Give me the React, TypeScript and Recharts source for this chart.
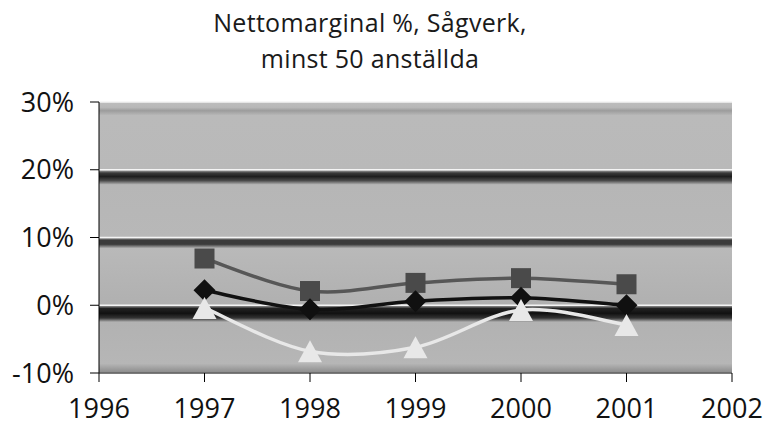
import React from "react";
import { LineChart, Line, XAxis, YAxis, CartesianGrid } from "recharts";

const years = [1997, 1998, 1999, 2000, 2001];
const squareSeries = [6.9, 2.1, 3.3, 4.0, 3.1];
const diamondSeries = [2.2, -0.6, 0.6, 1.1, 0.0];
const triangleSeries = [-0.4, -6.8, -6.2, -0.7, -2.9];
const xTicks = [1996, 1997, 1998, 1999, 2000, 2001, 2002];
const yTicks = [-10, 0, 10, 20, 30];
const titleLines = ["Nettomarginal %, Sågverk,", "minst 50 anställda"];

const data = years.map((y, i) => ({
  year: y,
  sq: squareSeries[i],
  di: diamondSeries[i],
  tr: triangleSeries[i],
}));

// Excel-like smoothing (uniform Catmull-Rom as cubic Bezier)
function excelCurve(context: any) {
  let pts: number[][] = [];
  return {
    areaStart() {},
    areaEnd() {},
    lineStart() {
      pts = [];
    },
    point(x: number, y: number) {
      pts.push([+x, +y]);
    },
    lineEnd() {
      if (!pts.length) return;
      context.moveTo(pts[0][0], pts[0][1]);
      for (let i = 0; i < pts.length - 1; i++) {
        const p0 = pts[i - 1] || pts[i];
        const p1 = pts[i];
        const p2 = pts[i + 1];
        const p3 = pts[i + 2] || pts[i + 1];
        context.bezierCurveTo(
          p1[0] + (p2[0] - p0[0]) / 6,
          p1[1] + (p2[1] - p0[1]) / 6,
          p2[0] - (p3[0] - p1[0]) / 6,
          p2[1] - (p3[1] - p1[1]) / 6,
          p2[0],
          p2[1]
        );
      }
    },
  };
}

const FONT = "'Open Sans', 'DejaVu Sans', sans-serif";

const SquareDot = (props: any) => {
  const { cx, cy, index } = props;
  if (cx == null || cy == null) return <g key={`s${index}`} />;
  return <rect key={`s${index}`} x={cx - 10} y={cy - 10} width={20} height={20} fill="#4a4a4a" />;
};
const DiamondDot = (props: any) => {
  const { cx, cy, index } = props;
  if (cx == null || cy == null) return <g key={`d${index}`} />;
  const r = 11;
  return (
    <polygon
      key={`d${index}`}
      points={`${cx},${cy - r} ${cx + r},${cy} ${cx},${cy + r} ${cx - r},${cy}`}
      fill="#101010"
    />
  );
};
const TriangleDot = (props: any) => {
  const { cx, cy, index } = props;
  if (cx == null || cy == null) return <g key={`t${index}`} />;
  return (
    <polygon
      key={`t${index}`}
      points={`${cx},${cy - 11} ${cx + 12},${cy + 11} ${cx - 12},${cy + 11}`}
      fill="#e8e8e8"
    />
  );
};

export default function App() {
  return (
    <div style={{ position: "absolute", left: 0, top: 0, width: 764, height: 428, background: "#fff" }}>
      <div
        style={{
          position: "absolute",
          left: 0,
          top: 4,
          width: 740,
          textAlign: "center",
          fontFamily: FONT,
          fontSize: 25,
          lineHeight: "36px",
          letterSpacing: 0.3,
          color: "#1a1a1a",
          zIndex: 1,
        }}
      >
        {titleLines.map((t) => (
          <div key={t}>{t}</div>
        ))}
      </div>
      <LineChart
        width={764}
        height={428}
        data={data}
        margin={{ top: 102, right: 32, bottom: 0, left: 0 }}
        style={{ position: "absolute", left: 0, top: 0 }}
      >
        <defs>
          <linearGradient id="wood" x1="0" y1="0" x2="0" y2="1">
            <stop offset="0" stopColor="#bdbdbd" />
            <stop offset="0.02" stopColor="#b8b8b8" />
            <stop offset="0.032" stopColor="#9c9c9c" />
            <stop offset="0.05" stopColor="#bababa" />
            <stop offset="0.25" stopColor="#b9b9b9" />
            <stop offset="0.262" stopColor="#3a3a3a" />
            <stop offset="0.275" stopColor="#1e1e1e" />
            <stop offset="0.29" stopColor="#4a4a4a" />
            <stop offset="0.305" stopColor="#b6b6b6" />
            <stop offset="0.5" stopColor="#b8b8b8" />
            <stop offset="0.51" stopColor="#3c3c3c" />
            <stop offset="0.525" stopColor="#3c3c3c" />
            <stop offset="0.54" stopColor="#b9b9b9" />
            <stop offset="0.75" stopColor="#b0b0b0" />
            <stop offset="0.762" stopColor="#222" />
            <stop offset="0.78" stopColor="#111" />
            <stop offset="0.797" stopColor="#333" />
            <stop offset="0.812" stopColor="#b2b2b2" />
            <stop offset="0.965" stopColor="#b6b6b6" />
            <stop offset="1" stopColor="#8a8a8a" />
          </linearGradient>
        </defs>
        <CartesianGrid
          vertical={false}
          fill="url(#wood)"
          fillOpacity={1}
          stroke="#f4f4f4"
          strokeWidth={1.5}
        />
        <XAxis
          dataKey="year"
          type="number"
          domain={[1996, 2002]}
          ticks={xTicks}
          interval={0}
          axisLine={{ stroke: "#000", strokeWidth: 1 }}
          tickLine={{ stroke: "#000", strokeWidth: 1 }}
          tickSize={9}
          tickMargin={17}
          height={55}
          tick={{ fill: "#111", fontSize: 27, fontFamily: FONT }}
        />
        <YAxis
          type="number"
          domain={[-10, 30]}
          ticks={yTicks}
          interval={0}
          width={99}
          axisLine={{ stroke: "#000", strokeWidth: 1 }}
          tickLine={{ stroke: "#000", strokeWidth: 1 }}
          tickSize={9}
          tickMargin={16}
          tickFormatter={(v: number) => `${v}%`}
          tick={{ fill: "#111", fontSize: 27, fontFamily: FONT }}
        />
        <Line
          dataKey="sq"
          type={excelCurve as any}
          stroke="#575757"
          strokeWidth={3.5}
          dot={SquareDot}
          activeDot={false}
          isAnimationActive={false}
        />
        <Line
          dataKey="di"
          type={excelCurve as any}
          stroke="#111"
          strokeWidth={3.5}
          dot={DiamondDot}
          activeDot={false}
          isAnimationActive={false}
        />
        <Line
          dataKey="tr"
          type={excelCurve as any}
          stroke="#e8e8e8"
          strokeWidth={3.5}
          dot={TriangleDot}
          activeDot={false}
          isAnimationActive={false}
        />
      </LineChart>
    </div>
  );
}
